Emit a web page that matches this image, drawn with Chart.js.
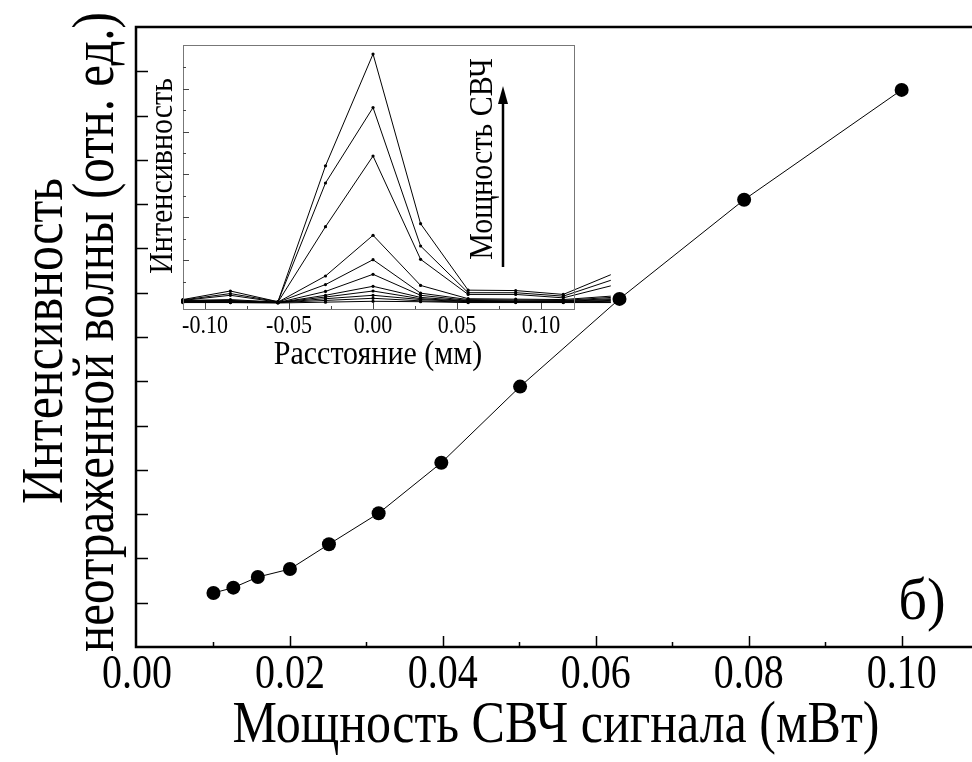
<!DOCTYPE html>
<html><head><meta charset="utf-8">
<script src="https://cdn.jsdelivr.net/npm/chart.js@4.4.1/dist/chart.umd.min.js"></script>
<style>
html,body{margin:0;padding:0;background:#fff;overflow:hidden;}
#wrap{position:relative;width:972px;height:762px;background:#fff;}
canvas{position:absolute;left:0;top:0;}
</style></head><body>
<div id="wrap"><canvas id="main" width="972" height="762"></canvas><canvas id="inset" width="972" height="762"></canvas></div>
<script>
// ---------- Main chart data ----------
const powerMW   = [0.0100, 0.0126, 0.0158, 0.0200, 0.0251, 0.0316, 0.0398, 0.0501, 0.0631, 0.0794, 0.1000];
const intensity = [1.11, 1.17, 1.29, 1.38, 1.66, 2.01, 2.58, 3.44, 4.43, 5.55, 6.79];
const xMajorTicks = [0, 0.02, 0.04, 0.06, 0.08, 0.10];
const xTickLabels = ['0.00', '0.02', '0.04', '0.06', '0.08', '0.10'];
const xMinorTicks = [0.01, 0.03, 0.05, 0.07, 0.09];
const yTicks = [1, 1.5, 2, 2.5, 3, 3.5, 4, 4.5, 5, 5.5, 6, 6.5, 7];

// ---------- Inset data (profiles vs distance, increasing microwave power) ----------
const distanceMM = [-0.1132, -0.0849, -0.0566, -0.0283, 0, 0.0283, 0.0566, 0.0849, 0.1132, 0.1415];
const profile1  = [0.01, 0.01, 0.00, 0.02, 0.04, 0.03, 0.01, 0.01, 0.01, 0.01];
const profile2  = [0.02, 0.01, 0.01, 0.06, 0.11, 0.05, 0.02, 0.02, 0.02, 0.02];
const profile3  = [0.03, 0.02, 0.01, 0.10, 0.18, 0.08, 0.03, 0.03, 0.02, 0.04];
const profile4  = [0.03, 0.03, 0.01, 0.14, 0.28, 0.10, 0.04, 0.03, 0.03, 0.06];
const profile5  = [0.04, 0.04, 0.01, 0.18, 0.39, 0.13, 0.05, 0.04, 0.04, 0.08];
const profile6  = [0.05, 0.05, 0.01, 0.27, 0.67, 0.18, 0.06, 0.05, 0.05, 0.10];
const profile7  = [0.05, 0.06, 0.02, 0.43, 1.01, 0.23, 0.08, 0.07, 0.06, 0.13];
const profile8  = [0.06, 0.08, 0.02, 0.63, 1.58, 0.41, 0.10, 0.09, 0.08, 0.16];
const profile9  = [0.06, 0.18, 0.02, 1.78, 3.43, 1.02, 0.20, 0.20, 0.12, 0.40];
const profile10 = [0.07, 0.22, 0.03, 2.80, 4.56, 1.33, 0.24, 0.24, 0.16, 0.53];
const profile11 = [0.08, 0.28, 0.03, 3.20, 5.81, 1.85, 0.30, 0.29, 0.20, 0.66];
const profiles = [profile1, profile2, profile3, profile4, profile5, profile6, profile7, profile8, profile9, profile10, profile11];
const insetXMajor = [-0.10, -0.05, 0, 0.05, 0.10];
const insetXLabels = ['-0.10', '-0.05', '0.00', '0.05', '0.10'];
const insetXMinor = [-0.075, -0.025, 0.025, 0.075];
const insetYMajor = [1, 2, 3, 4, 5];
const insetYMinor = [0.5, 1.5, 2.5, 3.5, 4.5, 5.5];

// ---------- texts ----------
const xTitle = 'Мощность СВЧ сигнала (мВт)';
const yTitle1 = 'Интенсивность';
const yTitle2 = 'неотраженной волны (отн. ед.)';
const panelLabel = 'б)';
const insetXTitle = 'Расстояние (мм)';
const insetYTitle = 'Интенсивность';
const insetArrowLabel = 'Мощность СВЧ';

const SERIF = '"Liberation Serif", "DejaVu Serif", serif';
const K_MAIN = 1.2, K_INSET = 1.1;

function drawText(ctx, text, x, y, size, opt) {
  opt = opt || {};
  ctx.save();
  ctx.translate(x, y);
  if (opt.rot) ctx.rotate(opt.rot);
  ctx.scale(1, opt.k || 1);
  ctx.font = size + 'px ' + SERIF;
  ctx.fillStyle = '#000';
  ctx.textAlign = opt.align || 'center';
  ctx.textBaseline = 'alphabetic';
  ctx.fillText(text, 0, 0);
  ctx.restore();
}

const mainDecor = {
  id: 'mainDecor',
  afterDraw(chart) {
    const {ctx, chartArea: a, scales: {x, y}} = chart;
    ctx.save();
    ctx.strokeStyle = '#000';
    ctx.lineWidth = 1.5;
    ctx.beginPath();
    xMajorTicks.forEach(v => { const p = Math.round(x.getPixelForValue(v)) + 0.5; if (v > 0) { ctx.moveTo(p, a.bottom); ctx.lineTo(p, a.bottom - 11); } });
    xMinorTicks.forEach(v => { const p = Math.round(x.getPixelForValue(v)) + 0.5; ctx.moveTo(p, a.bottom); ctx.lineTo(p, a.bottom - 5); });
    yTicks.forEach(v => { const p = Math.round(y.getPixelForValue(v)) + 0.5; ctx.moveTo(a.left, p); ctx.lineTo(a.left + 11, p); });
    ctx.stroke();
    ctx.lineWidth = 2.5;
    ctx.beginPath();
    ctx.moveTo(a.left - 1, a.top); ctx.lineTo(chart.width + 5, a.top);
    ctx.moveTo(a.left - 1, a.top - 1.25); ctx.lineTo(a.left - 1, a.bottom + 1.25);
    ctx.moveTo(a.left - 1, a.bottom); ctx.lineTo(chart.width + 5, a.bottom);
    ctx.stroke();
    ctx.restore();
    xMajorTicks.forEach((v, i) => drawText(ctx, xTickLabels[i], x.getPixelForValue(v), 688, 40, {k: K_MAIN}));
    drawText(ctx, xTitle, 556, 742, 50, {k: K_MAIN});
    drawText(ctx, yTitle1, 62, 341, 50, {k: K_MAIN, rot: -Math.PI / 2});
    drawText(ctx, yTitle2, 113, 332, 49, {k: K_MAIN, rot: -Math.PI / 2});
    drawText(ctx, panelLabel, 922, 619, 56, {k: 1.05});
  }
};

new Chart(document.getElementById('main'), {
  type: 'scatter',
  data: {datasets: [{
    data: powerMW.map((v, i) => ({x: v, y: intensity[i]})),
    showLine: true, borderColor: '#000', borderWidth: 1,
    pointRadius: 7, pointHoverRadius: 7, pointBackgroundColor: '#000', pointBorderWidth: 0, clip: false
  }]},
  options: {
    responsive: false, animation: false, events: [],
    layout: {autoPadding: false, padding: {top: 27, left: 0, right: 0, bottom: 0}},
    plugins: {legend: {display: false}, tooltip: {enabled: false}},
    scales: {
      x: {type: 'linear', min: 0, max: 0.1092, grid: {display: false}, border: {display: false}, ticks: {display: false},
          afterFit(s) { s.height = 115; }},
      y: {type: 'linear', min: 0.5, max: 7.5, grid: {display: false}, border: {display: false}, ticks: {display: false},
          afterFit(s) { s.width = 137; }}
    }
  },
  plugins: [mainDecor]
});

const insetDecor = {
  id: 'insetDecor',
  afterDraw(chart) {
    const {ctx, chartArea: a, scales: {x, y}} = chart;
    ctx.save();
    ctx.strokeStyle = '#777';
    ctx.lineWidth = 1;
    ctx.strokeRect(Math.round(a.left) + 0.5, Math.round(a.top) + 0.5, Math.round(a.right - a.left), Math.round(a.bottom - a.top));
    ctx.strokeStyle = '#444';
    ctx.beginPath();
    insetXMajor.forEach(v => { const p = Math.round(x.getPixelForValue(v)) + 0.5; ctx.moveTo(p, a.bottom); ctx.lineTo(p, a.bottom - 6); });
    insetXMinor.forEach(v => { const p = Math.round(x.getPixelForValue(v)) + 0.5; ctx.moveTo(p, a.bottom); ctx.lineTo(p, a.bottom - 3); });
    insetYMajor.forEach(v => { const p = Math.round(y.getPixelForValue(v)) + 0.5; ctx.moveTo(a.left, p); ctx.lineTo(a.left + 6, p); });
    insetYMinor.forEach(v => { const p = Math.round(y.getPixelForValue(v)) + 0.5; ctx.moveTo(a.left, p); ctx.lineTo(a.left + 3, p); });
    ctx.stroke();
    ctx.strokeStyle = '#000';
    ctx.fillStyle = '#000';
    ctx.lineWidth = 2.5;
    ctx.beginPath(); ctx.moveTo(503, 267); ctx.lineTo(503, 100); ctx.stroke();
    ctx.beginPath(); ctx.moveTo(503, 86); ctx.lineTo(498, 104); ctx.lineTo(508, 104); ctx.closePath(); ctx.fill();
    ctx.restore();
    insetXMajor.forEach((v, i) => drawText(ctx, insetXLabels[i], x.getPixelForValue(v), 333, 22, {k: K_INSET}));
    drawText(ctx, insetXTitle, 378, 364, 30, {k: K_INSET});
    drawText(ctx, insetYTitle, 172, 176, 30, {k: K_INSET, rot: -Math.PI / 2});
    drawText(ctx, insetArrowLabel, 492, 159, 30, {k: K_INSET, rot: -Math.PI / 2});
  }
};

new Chart(document.getElementById('inset'), {
  type: 'scatter',
  data: {datasets: profiles.map(p => ({
    data: distanceMM.map((v, i) => ({x: v, y: p[i]})),
    showLine: true, borderColor: '#000', borderWidth: 1,
    pointRadius: 1.6, pointHoverRadius: 1.6, pointBackgroundColor: '#000', pointBorderWidth: 0, clip: false
  }))},
  options: {
    responsive: false, animation: false, events: [],
    layout: {autoPadding: false, padding: {top: 45, left: 0, right: 398, bottom: 0}},
    plugins: {legend: {display: false}, tooltip: {enabled: false}},
    scales: {
      x: {type: 'linear', min: -0.1131, max: 0.1196, grid: {display: false}, border: {display: false}, ticks: {display: false},
          afterFit(s) { s.height = 453; }},
      y: {type: 'linear', min: -0.14, max: 6.02, grid: {display: false}, border: {display: false}, ticks: {display: false},
          afterFit(s) { s.width = 183; }}
    }
  },
  plugins: [insetDecor]
});
</script>
</body></html>
